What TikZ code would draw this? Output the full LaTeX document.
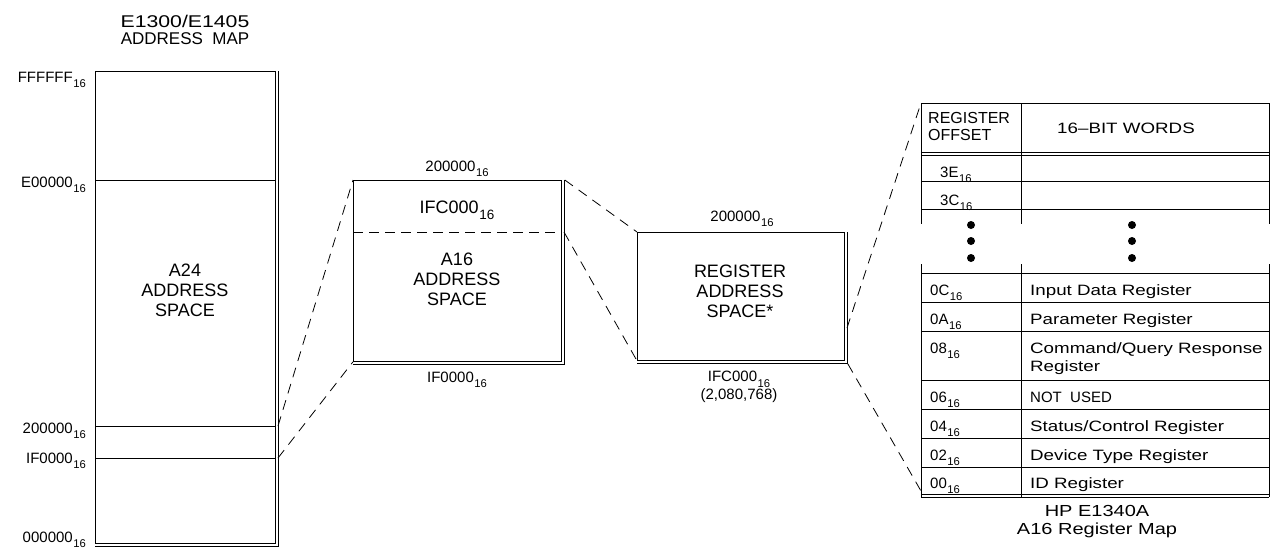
\documentclass[tikz,border=0pt]{standalone}
\usepackage{fontspec}
\usepackage{graphicx}
\setmainfont{Liberation Sans}
\newfontfamily\widefont[FakeStretch=1.25]{Liberation Sans}
\newcommand{\hexsub}{\kern0.5pt\smash{\raisebox{-0.38em}{\scalebox{0.75}{16}}}}
\tikzset{
  mapbox/.style={draw, line width=0.8pt, inner sep=0pt, anchor=north west},
  rule/.style={line width=0.8pt},
  proj/.style={line width=0.8pt, dash pattern=on 10pt off 7pt},
  hexlbl/.style={inner sep=0pt, font=\fontsize{15}{16}\selectfont},
  bigtxt/.style={inner sep=0pt, align=center, anchor=north, font=\fontsize{18}{20}\selectfont},
  regtxt/.style={inner sep=0pt, anchor=base west, font=\widefont\fontsize{15}{18}\selectfont},
}
\begin{document}
\begin{tikzpicture}[x=1pt, y=-1pt]
\useasboundingbox (0,0) rectangle (1270,550);

% E1300/E1405 address map
\node[bigtxt, font=\fontsize{17}{17}\selectfont] (maptitle) at (185,15) {{\widefont E1300/E1405}\\ADDRESS~~MAP};
\node[mapbox, minimum width=180pt, minimum height=472pt] (a24) at (95,71) {};
\draw[rule] ([xshift=3pt]a24.north east) |- ([yshift=-3pt]a24.south west);
\draw[rule] (95,180) -- (275,180);
\draw[rule] (95,426) -- (275,426);
\draw[rule] (95,458) -- (275,458);
\node[bigtxt] (a24txt) at (185,264) {A24\\ADDRESS\\SPACE};
\node[hexlbl, anchor=base east] (hfff) at (86,82) {FFFFFF\hexsub};
\node[hexlbl, anchor=base east] (he00) at (86,187) {E00000\hexsub};
\node[hexlbl, anchor=base east] (h200) at (86,433) {200000\hexsub};
\node[hexlbl, anchor=base east] (h1f0) at (86,463) {IF0000\hexsub};
\node[hexlbl, anchor=base east] (h000) at (86,542) {000000\hexsub};
\coordinate (a24hi) at (278,426);
\coordinate (a24lo) at (278,458);

% A16 address space
\node[mapbox, minimum width=208pt, minimum height=181pt] (a16) at (353,180) {};
\draw[rule] ([xshift=3pt]a16.north east) |- ([yshift=-3pt]a16.south west);
\coordinate (ifcl) at (353,232);
\coordinate (ifcr) at (561,232);
\draw[rule, dash pattern=on 10pt off 6pt] (ifcl) -- (ifcr);
\node[hexlbl, anchor=base] (a16top) at (457,171) {200000\hexsub};
\node[hexlbl, anchor=base, font=\fontsize{18}{18}\selectfont] (a16ifc) at (457,213) {IFC000\hexsub};
\node[bigtxt] (a16txt) at (457,253) {A16\\ADDRESS\\SPACE};
\node[hexlbl, anchor=base] (a16bot) at (457,382) {IF0000\hexsub};

% register address space
\node[mapbox, minimum width=207pt, minimum height=128pt] (regs) at (637,232) {};
\draw[rule] ([xshift=3pt]regs.north east) |- ([yshift=-3pt]regs.south west);
\node[hexlbl, anchor=base] (regtop) at (742,221) {200000\hexsub};
\node[bigtxt] (regtxt) at (740,265) {REGISTER\\ADDRESS\\SPACE*};
\node[hexlbl, align=center, anchor=north, font=\fontsize{15}{18}\selectfont] (regbot) at (739,371) {IFC000\hexsub\\(2,080,768)};
\coordinate (regtap) at (847,328);

% projection lines
\coordinate (tabtop) at (921,103);
\coordinate (tabbot) at (921,491);
\draw[proj] (a24hi) -- (a16.north west);
\draw[proj] (a24lo) -- (a16.south west);
\draw[proj] ([xshift=3pt]a16.north east) -- (regs.north west);
\draw[proj] ([xshift=3pt]ifcr) -- (regs.south west);
\draw[proj] (regtap) -- (tabtop);
\draw[proj] ([shift={(3pt,-3pt)}]regs.south east) -- (tabbot);

% register map table
\foreach \y in {103,152,155,181,209,273,302,331,380,409,438,467,494,497}
  \draw[rule] (921,\y) -- (1269,\y);
\foreach \x in {921,1021,1269} {
  \draw[rule] (\x,103) -- (\x,224);
  \draw[rule] (\x,264) -- (\x,497);
}
\foreach \y in {225,241,258} {
  \fill (971,\y) circle (4pt);
  \fill (1132,\y) circle (4pt);
}
\node[inner sep=0pt, align=left, anchor=north west, font=\fontsize{16}{17}\selectfont] (hdoff) at (928,112) {REGISTER\\OFFSET};
\node[regtxt, anchor=base] (hdword) at (1126,133) {16–BIT WORDS};
\node[hexlbl, anchor=base west] (o3e) at (940,177) {3E\hexsub};
\node[hexlbl, anchor=base west] (o3c) at (940,205) {3C\hexsub};
\node[hexlbl, anchor=base west] (o0c) at (930,295) {0C\hexsub};
\node[hexlbl, anchor=base west] (o0a) at (930,324) {0A\hexsub};
\node[hexlbl, anchor=base west] (o08) at (930,353) {08\hexsub};
\node[hexlbl, anchor=base west] (o06) at (930,402) {06\hexsub};
\node[hexlbl, anchor=base west] (o04) at (930,431) {04\hexsub};
\node[hexlbl, anchor=base west] (o02) at (930,460) {02\hexsub};
\node[hexlbl, anchor=base west] (o00) at (930,488) {00\hexsub};
\node[regtxt] (r0c) at (1030,295) {Input Data Register};
\node[regtxt] (r0a) at (1030,324) {Parameter Register};
\node[regtxt, align=left, anchor=north west] (r08) at (1030,342) {Command/Query Response\\Register};
\node[regtxt, font=\fontsize{15}{15}\selectfont] (r06) at (1030,402) {NOT~~USED};
\node[regtxt] (r04) at (1030,431) {Status/Control Register};
\node[regtxt] (r02) at (1030,460) {Device Type Register};
\node[regtxt] (r00) at (1030,488) {ID Register};
\node[inner sep=0pt, align=center, anchor=north, font=\widefont\fontsize{16}{18}\selectfont] (tabcap) at (1097,505) {HP E1340A\\A16 Register Map};
\end{tikzpicture}
\end{document}
